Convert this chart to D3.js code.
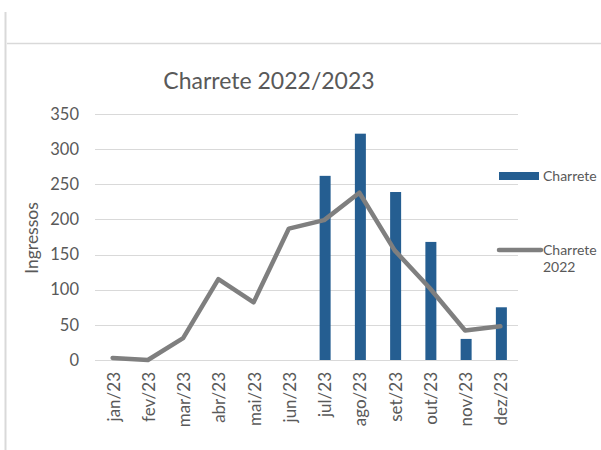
<!DOCTYPE html>
<html><head><meta charset="utf-8">
<script src="https://cdn.jsdelivr.net/npm/d3@7"></script>
<style>body{margin:0;background:#fff;}svg{display:block;font-family:Lato,"Open Sans",sans-serif;}</style>
</head><body>
<script>
const months = ["jan/23","fev/23","mar/23","abr/23","mai/23","jun/23","jul/23","ago/23","set/23","out/23","nov/23","dez/23"];
const charrete = [null,null,null,null,null,null,262,322,239,168,30,75];
const charrete2022 = [3,0,31,115,82,187,199,238,156,102,42,48];
const yTicks = [0,50,100,150,200,250,300,350];
const titleText = "Charrete 2022/2023";
const yLabel = "Ingressos";
const legendLabels = ["Charrete", "Charrete 2022"];

const W = 601, H = 450;
const svg = d3.select("body").append("svg").attr("width", W).attr("height", H);
// frame lines
svg.append("line").attr("x1",5.5).attr("x2",5.5).attr("y1",12).attr("y2",450).attr("stroke","#d9d9d9").attr("stroke-width",2);
svg.append("line").attr("x1",7).attr("x2",601).attr("y1",43.5).attr("y2",43.5).attr("stroke","#d9d9d9").attr("stroke-width",1.5);

const x = d3.scaleBand().domain(months).range([95, 518]);
const y = d3.scaleLinear().domain([0, 350]).range([360, 114]);

// gridlines
svg.append("g").selectAll("line").data(yTicks).join("line")
  .attr("x1", 95).attr("x2", 518)
  .attr("y1", d => Math.round(y(d)) + 0.5).attr("y2", d => Math.round(y(d)) + 0.5)
  .attr("stroke", "#d9d9d9").attr("stroke-width", 1.2);

const tickFs = 16.5;
// y axis labels
const yAxis = d3.axisLeft(y).tickValues(yTicks).tickSize(0).tickPadding(0);
const gy = svg.append("g").attr("transform", "translate(79,0)").call(yAxis);
gy.select(".domain").remove();
gy.selectAll("text").attr("fill", "#595959").style("font-size", tickFs + "px").style("font-family","Lato,'Open Sans',sans-serif");

// x axis labels
const xFs = 17;
const xAxis = d3.axisBottom(x).tickSize(0).tickPadding(0);
const gx = svg.append("g").attr("transform", "translate(0,360)").call(xAxis);
gx.select(".domain").remove();
gx.selectAll("text")
  .attr("fill", "#595959").style("font-size", xFs + "px").style("font-family","Lato,'Open Sans',sans-serif")
  .attr("text-anchor", "end").attr("dy", null).attr("y", 0)
  .attr("transform", `translate(${(0.36*xFs+1).toFixed(1)},12) rotate(-90)`);

// bars
const bw = 11;
svg.append("g").selectAll("rect").data(months.map((m,i)=>({m, v: charrete[i]})).filter(d => d.v != null)).join("rect")
  .attr("x", d => x(d.m) + x.bandwidth()/2 - bw/2 + 1)
  .attr("width", bw)
  .attr("y", d => y(d.v))
  .attr("height", d => y(0) - y(d.v))
  .attr("fill", "#255e91");

// line
const line = d3.line().x((d,i) => x(months[i]) + x.bandwidth()/2).y(d => y(d));
svg.append("path").datum(charrete2022).attr("d", line)
  .attr("fill", "none").attr("stroke", "#7f7f7f").attr("stroke-width", 4.5)
  .attr("stroke-linejoin", "round").attr("stroke-linecap", "round");

// title
svg.append("text").attr("x", 269).attr("y", 89).attr("text-anchor", "middle")
  .attr("fill", "#595959").style("font-size", "23px").text(titleText);

// y label
svg.append("text").attr("transform", "translate(38,238) rotate(-90)").attr("text-anchor", "middle")
  .attr("fill", "#595959").style("font-size", "17.5px").text(yLabel);

// legend
const lFs = 14;
svg.append("rect").attr("x", 499).attr("y", 172).attr("width", 40).attr("height", 8).attr("fill", "#255e91");
svg.append("text").attr("x", 543).attr("y", 181).attr("fill", "#595959").style("font-size", lFs + "px").text(legendLabels[0]);
svg.append("line").attr("x1", 499).attr("x2", 541).attr("y1", 250).attr("y2", 250)
  .attr("stroke", "#7f7f7f").attr("stroke-width", 4.5).attr("stroke-linecap","round");
const parts = legendLabels[1].split(" ");
svg.append("text").attr("x", 543).attr("y", 255).attr("fill", "#595959").style("font-size", lFs + "px").text(parts[0]);
svg.append("text").attr("x", 543).attr("y", 272).attr("fill", "#595959").style("font-size", lFs + "px").text(parts[1]);
</script>
</body></html>
